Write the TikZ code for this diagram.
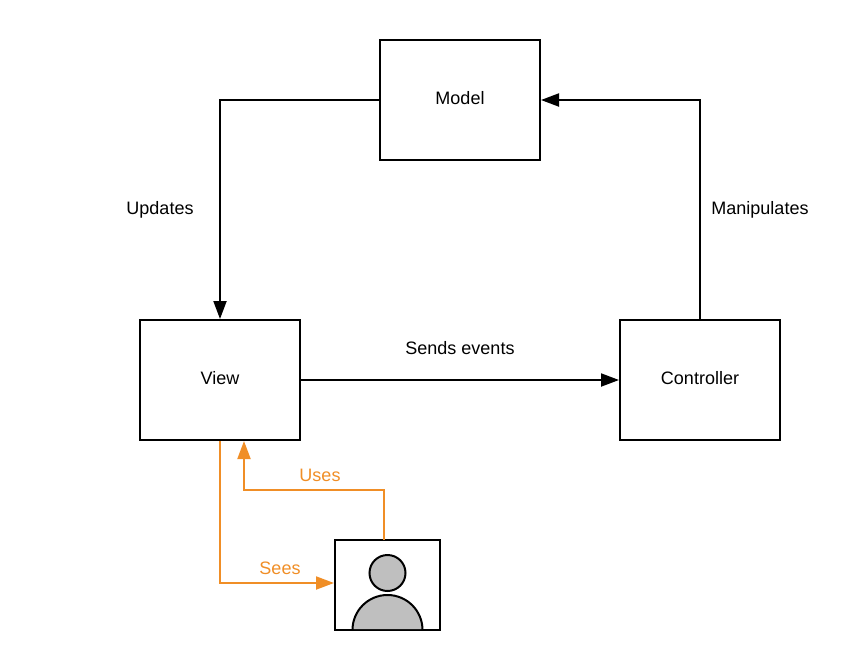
\documentclass[tikz,border=0pt]{standalone}
\usepackage{fontspec}
\setmainfont{Liberation Sans}
\usetikzlibrary{arrows.meta}
\definecolor{flow}{HTML}{F08E26}
\definecolor{figgrey}{HTML}{BFBFBF}
\tikzset{
  x=1pt,y=-1pt,
  boxnode/.style={draw=black,line width=2pt,fill=white,inner sep=0pt,minimum width=160pt,minimum height=120pt},
  blackarrow/.style={draw=black,line width=2pt,-{Triangle[length=18pt,width=13pt]}},
  orangearrow/.style={draw=flow,line width=2pt,-{Triangle[length=18pt,width=13pt]}},
  lbl/.style={font=\fontsize{18}{21}\selectfont,inner sep=0pt,text=black},
  orangelbl/.style={lbl,text=flow},
  figpart/.style={draw=black,line width=2pt,fill=figgrey},
}
\begin{document}
\begin{tikzpicture}
\useasboundingbox (0,0) rectangle (860,670);
\node[boxnode] (model) at (460,100) {};
\node[boxnode] (view) at (220,380) {};
\node[boxnode] (controller) at (700,380) {};
\node[lbl] (modeltext) at (460,98) {Model};
\node[lbl] (viewtext) at (220,378) {View};
\node[lbl] (controllertext) at (700,378) {Controller};
\node[lbl] (updates) at (160,210) {Updates};
\node[lbl] (manip) at (760,210) {Manipulates};
\node[lbl] (events) at (460,348) {Sends events};
\node[orangelbl] (uses) at (320,475.5) {Uses};
\node[orangelbl] (sees) at (280,568) {Sees};
\node[draw=black,line width=2pt,fill=white,inner sep=0pt,minimum width=105pt,minimum height=90pt] (user) at (387.5,585) {};
\coordinate (usesstart) at (384,540);
\coordinate (usesend) at (244,441);
\coordinate (seesend) at (334,583);
\draw[blackarrow] (model.west) -| (view.north);
\draw[blackarrow] (controller.north) |- (model.east);
\draw[blackarrow] (view.east) -- (controller.west);
\draw[orangearrow] (usesstart) |- (320,490) -| (usesend);
\draw[orangearrow] (view.south) |- (seesend);
\fill[figgrey] (352.5,629) arc[start angle=180,end angle=360,x radius=35,y radius=34] -- cycle;
\draw[black,line width=2pt] (352.5,630) arc[start angle=180,end angle=360,x radius=35,y radius=35];
\draw[figpart] (387.5,573) circle[radius=18];
\end{tikzpicture}
\end{document}
